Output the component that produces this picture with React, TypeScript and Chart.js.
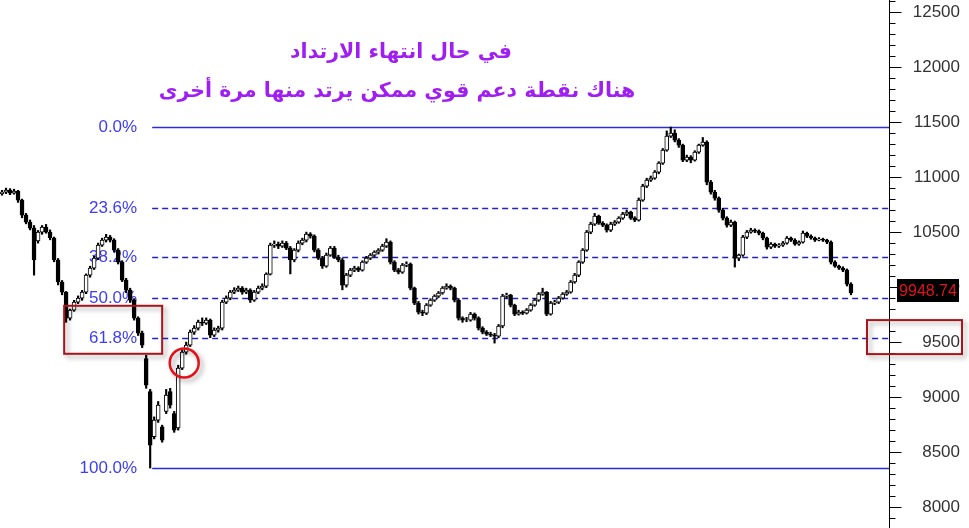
import React, { useEffect, useRef } from 'react';
import { Chart, registerables } from 'chart.js';

Chart.register(...registerables);

// ---- candle data (OHLC) ----
const opens = [
  10850,10864,10882,10855,10873,10791,10655,10591,10536,10420,
  10500,10546,10500,10446,10246,10046,9955,9718,9791,9864,
  9900,9955,10109,10173,10264,10382,10427,10455,10427,10336,
  10227,10064,9973,9882,9718,9582,9350,9050,8640,8791,
  8730,8870,9050,8850,8720,9264,9409,9473,9591,9627,
  9682,9673,9700,9564,9609,9627,9864,9900,9955,9973,
  9991,9955,9973,9882,9955,9991,10009,10118,10382,10391,
  10373,10400,10355,10246,10336,10400,10427,10482,10464,10336,
  10264,10191,10291,10355,10273,10246,10018,10109,10155,10173,
  10155,10227,10264,10291,10318,10336,10373,10409,10227,10155,
  10136,10200,10209,9991,9855,9773,9764,9836,9882,9918,
  9946,9991,10009,9991,9882,9718,9700,9700,9755,9718,
  9627,9591,9573,9564,9555,9646,9918,9927,9836,9755,
  9773,9764,9791,9836,9882,9936,9955,9755,9855,9864,
  9900,9936,9955,10046,10109,10227,10336,10500,10573,10646,
  10582,10564,10518,10573,10591,10627,10664,10682,10627,10609,
  10791,10918,10973,10991,11045,11127,11245,11373,11400,11336,
  11291,11155,11182,11155,11227,11291,11318,10955,10864,10809,
  10700,10627,10564,10591,10264,10291,10455,10500,10518,10509,
  10491,10446,10364,10391,10373,10382,10400,10446,10427,10391,
  10409,10491,10464,10446,10427,10436,10427,10409,10227,10191,
  10173,10155,10027,
];
const highs = [
  10880,10900,10895,10890,10880,10800,10670,10610,10560,10515,
  10560,10570,10520,10455,10260,10060,9960,9800,9880,9920,
  9970,10120,10190,10280,10400,10445,10480,10470,10440,10350,
  10240,10080,9990,9895,9730,9600,9380,9070,8820,8960,
  8745,9070,9080,8870,9290,9430,9500,9610,9650,9700,
  9720,9720,9710,9630,9645,9880,9920,9970,9995,10010,
  10005,9990,9985,9970,10010,10030,10130,10400,10420,10410,
  10420,10415,10370,10350,10420,10445,10500,10495,10475,10350,
  10280,10310,10370,10370,10290,10260,10125,10170,10190,10185,
  10240,10280,10305,10330,10350,10390,10440,10420,10240,10170,
  10215,10230,10220,10000,9870,9790,9850,9895,9930,9960,
  10005,10030,10020,10000,9895,9730,9725,9770,9765,9730,
  9640,9605,9590,9580,9660,9935,9945,9935,9845,9790,
  9785,9805,9850,9895,9950,9990,9960,9870,9880,9915,
  9950,9970,10060,10125,10240,10350,10515,10590,10670,10655,
  10595,10575,10590,10605,10640,10680,10700,10690,10640,10810,
  10935,10990,11010,11060,11140,11260,11420,11455,11430,11350,
  11300,11200,11195,11240,11300,11360,11330,10970,10880,10820,
  10715,10640,10610,10600,10300,10470,10515,10535,10530,10520,
  10500,10455,10405,10400,10395,10415,10460,10455,10440,10420,
  10510,10500,10475,10455,10450,10445,10435,10420,10240,10200,
  10185,10165,10040,
];
const lows = [
  10835,10850,10840,10845,10770,10630,10575,10520,10109,10400,
  10480,10490,10430,10230,10020,9930,9680,9700,9780,9850,
  9880,9940,10090,10160,10250,10370,10410,10410,10320,10210,
  10050,9950,9860,9700,9560,9450,9080,8355,8620,8770,
  8590,8850,8900,8680,8700,9250,9390,9460,9570,9610,
  9650,9660,9540,9550,9590,9610,9850,9885,9940,9960,
  9935,9940,9860,9870,9940,9975,9995,10110,10360,10350,
  10360,10340,10120,10230,10320,10385,10410,10445,10320,10250,
  10170,10180,10280,10260,10230,9975,10000,10095,10140,10140,
  10145,10215,10250,10275,10300,10325,10360,10210,10140,10120,
  10125,10185,9975,9840,9755,9740,9750,9825,9870,9905,
  9935,9980,9975,9865,9700,9680,9685,9690,9700,9610,
  9575,9560,9550,9491,9540,9630,9900,9820,9740,9745,
  9750,9755,9780,9825,9870,9925,9740,9745,9840,9850,
  9890,9925,9945,10035,10095,10215,10325,10485,10560,10570,
  10550,10500,10505,10560,10580,10615,10650,10615,10595,10600,
  10780,10905,10960,10980,11030,11115,11235,11360,11320,11270,
  11140,11140,11130,11145,11215,11280,10930,10845,10790,10680,
  10610,10545,10550,10182,10240,10280,10440,10490,10495,10475,
  10430,10345,10350,10360,10360,10370,10390,10415,10380,10380,
  10400,10450,10435,10415,10420,10415,10395,10210,10180,10160,
  10140,10010,9930,
];
const closes = [
  10864,10882,10855,10873,10791,10655,10591,10536,10246,10500,
  10546,10500,10446,10246,10046,9955,9718,9791,9864,9900,
  9955,10109,10173,10264,10382,10427,10455,10427,10336,10227,
  10064,9973,9882,9718,9582,9473,9109,8564,8791,8927,
  8609,9018,8927,8700,9264,9409,9473,9591,9627,9682,
  9673,9700,9564,9609,9627,9864,9900,9955,9973,9991,
  9955,9973,9882,9955,9991,10009,10118,10382,10391,10373,
  10400,10355,10246,10336,10400,10427,10482,10464,10336,10264,
  10191,10291,10355,10273,10246,10018,10109,10155,10173,10155,
  10227,10264,10291,10318,10336,10373,10409,10227,10155,10136,
  10200,10209,9991,9855,9773,9764,9836,9882,9918,9946,
  9991,10009,9991,9882,9718,9700,9700,9755,9718,9627,
  9591,9573,9564,9555,9646,9918,9927,9836,9755,9773,
  9764,9791,9836,9882,9936,9955,9755,9855,9864,9900,
  9936,9955,10046,10109,10227,10336,10500,10573,10646,10582,
  10564,10518,10573,10591,10627,10664,10682,10627,10609,10791,
  10918,10973,10991,11045,11127,11245,11373,11400,11336,11291,
  11155,11182,11155,11227,11291,11318,10955,10864,10809,10700,
  10627,10564,10591,10264,10291,10455,10500,10518,10509,10491,
  10446,10364,10391,10373,10382,10400,10446,10427,10391,10409,
  10491,10464,10446,10427,10436,10427,10409,10227,10191,10173,
  10155,10027,9948.74,
];

// ---- axis ----
const yTicks = [8000, 8500, 9000, 9500, 10000, 10500, 11000, 11500, 12000, 12500];
const yMin = 7810;
const yMax = 12610;
const minorStep = 100;
const xMaxSlots = 221.5;

// ---- Fibonacci retracement ----
const fibLevels = [0, 23.6, 38.2, 50, 61.8, 100];
const fibHigh = 11455;
const fibLow = 8355;
const fibStartIndex = 37;

// ---- annotations ----
const lastPrice = 9948.74;
const highlightTick = 9500;
const circleIndex = 45.5;
const circleValue = 9310;
const titleLines = ['في حال انتهاء الارتداد', 'هناك نقطة دعم قوي ممكن يرتد منها مرة أخرى'];

const LATIN = 'Arial, "Liberation Sans", sans-serif';

const overlayPlugin = {
  id: 'overlay',
  beforeDatasetsDraw(chart: any) {
    const { ctx, chartArea, scales } = chart;
    const xs = scales.x;
    const ys = scales.y;
    const startX = xs.getPixelForValue(fibStartIndex) + 2;
    ctx.save();
    fibLevels.forEach((p) => {
      const v = fibHigh - ((fibHigh - fibLow) * p) / 100;
      const y = Math.round(ys.getPixelForValue(v)) + 0.5;
      const solid = p === 0 || p === 100;
      ctx.strokeStyle = solid ? '#2b2bd8' : '#2323c4';
      ctx.lineWidth = 1.5;
      ctx.setLineDash(solid ? [] : [6, 4]);
      ctx.beginPath();
      ctx.moveTo(startX, y);
      ctx.lineTo(chartArea.right, y);
      ctx.stroke();
      ctx.setLineDash([]);
      ctx.fillStyle = '#3d3df2';
      ctx.font = '17px ' + LATIN;
      ctx.textAlign = 'right';
      ctx.textBaseline = 'middle';
      ctx.fillText(p.toFixed(1) + '%', startX - 15, y);
    });
    ctx.restore();
  },
  afterDraw(chart: any) {
    const { ctx, chartArea, scales } = chart;
    const xs = scales.x;
    const ys = scales.y;
    const axisX = Math.round(chartArea.right) + 0.5;
    ctx.save();
    // tick marks
    ctx.strokeStyle = '#000';
    ctx.lineWidth = 1;
    for (let v = Math.ceil(yMin / minorStep) * minorStep; v <= yMax; v += minorStep) {
      const y = Math.round(ys.getPixelForValue(v)) + 0.5;
      const len = v % 500 === 0 ? 12 : 6;
      ctx.beginPath();
      ctx.moveTo(axisX, y);
      ctx.lineTo(axisX + len, y);
      ctx.stroke();
    }
    // last price label
    const py = ys.getPixelForValue(lastPrice);
    ctx.fillStyle = '#000';
    ctx.fillRect(chartArea.right + 8, Math.round(py - 13.5), 62, 23);
    ctx.fillStyle = '#e0141e';
    ctx.font = '16px ' + LATIN;
    ctx.textAlign = 'center';
    ctx.textBaseline = 'middle';
    ctx.fillText(lastPrice.toFixed(2), chartArea.right + 39, py - 1.5);

    // highlight boxes with shadow
    ctx.shadowColor = 'rgba(0,0,0,0.35)';
    ctx.shadowBlur = 5;
    ctx.shadowOffsetX = 3;
    ctx.shadowOffsetY = 3;
    ctx.strokeStyle = '#a8141a';
    ctx.lineWidth = 2;
    const startX = xs.getPixelForValue(fibStartIndex) + 2;
    const y618 = ys.getPixelForValue(fibHigh - (fibHigh - fibLow) * 0.618);
    ctx.strokeRect(startX - 88, y618 - 32, 98, 48);
    const y95 = ys.getPixelForValue(highlightTick);
    ctx.strokeRect(chartArea.right - 22, y95 - 22, 95, 34);
    // circle
    ctx.strokeStyle = '#e3121a';
    ctx.lineWidth = 2.5;
    ctx.beginPath();
    ctx.arc(xs.getPixelForValue(circleIndex), ys.getPixelForValue(circleValue), 14.5, 0, Math.PI * 2);
    ctx.stroke();
    ctx.restore();

    // title
    ctx.save();
    ctx.fillStyle = '#a01ef2';
    ctx.font = 'bold 20.5px "DejaVu Sans", Arial, sans-serif';
    ctx.textAlign = 'center';
    ctx.textBaseline = 'middle';
    (ctx as any).direction = 'rtl';
    ctx.fillText(titleLines[0], 401, 53);
    ctx.fillText(titleLines[1], 397, 92);
    ctx.restore();
  },
};

export default function App() {
  const ref = useRef<HTMLCanvasElement | null>(null);
  useEffect(() => {
    if (!ref.current) return;
    const bodies = closes.map((c, i) => ({ x: i, y: [opens[i], c] }));
    const wicks = highs.map((h, i) => ({ x: i, y: [lows[i], h] }));
    const chart = new Chart(ref.current, {
      type: 'bar',
      data: {
        datasets: [
          {
            data: bodies as any,
            backgroundColor: (c: any) =>
              closes[c.dataIndex] >= opens[c.dataIndex] ? '#ffffff' : '#000000',
            borderColor: '#000000',
            borderWidth: 1,
            borderSkipped: false,
            barThickness: 4,
            grouped: false,
          } as any,
          {
            data: wicks as any,
            backgroundColor: '#000000',
            borderWidth: 0,
            barThickness: 1.5,
            grouped: false,
          } as any,
        ],
      },
      options: {
        animation: false,
        responsive: true,
        maintainAspectRatio: false,
        layout: { padding: { left: 0, top: 0, bottom: 0, right: 9 } },
        plugins: { legend: { display: false }, tooltip: { enabled: false }, title: { display: false } },
        scales: {
          x: {
            type: 'linear',
            min: -0.5,
            max: xMaxSlots,
            offset: false,
            display: false,
          },
          y: {
            position: 'right',
            min: yMin,
            max: yMax,
            beginAtZero: false,
            afterBuildTicks: (s: any) => {
              s.ticks = yTicks.map((v) => ({ value: v }));
            },
            afterFit: (s: any) => {
              s.width = 71;
              s.paddingTop = 0;
              s.paddingBottom = 0;
            },
            grid: { display: false, drawTicks: false },
            border: { display: true, color: '#000000', width: 1 },
            ticks: {
              crossAlign: 'far',
              padding: 24,
              color: '#333333',
              font: { family: LATIN, size: 17 },
              callback: (v: any) => String(v),
            },
          },
        },
      } as any,
      plugins: [overlayPlugin],
    });
    return () => chart.destroy();
  }, []);
  return (
    <div style={{ position: 'absolute', left: 0, top: 0, width: 969, height: 528, background: '#fff' }}>
      <canvas ref={ref} />
    </div>
  );
}
